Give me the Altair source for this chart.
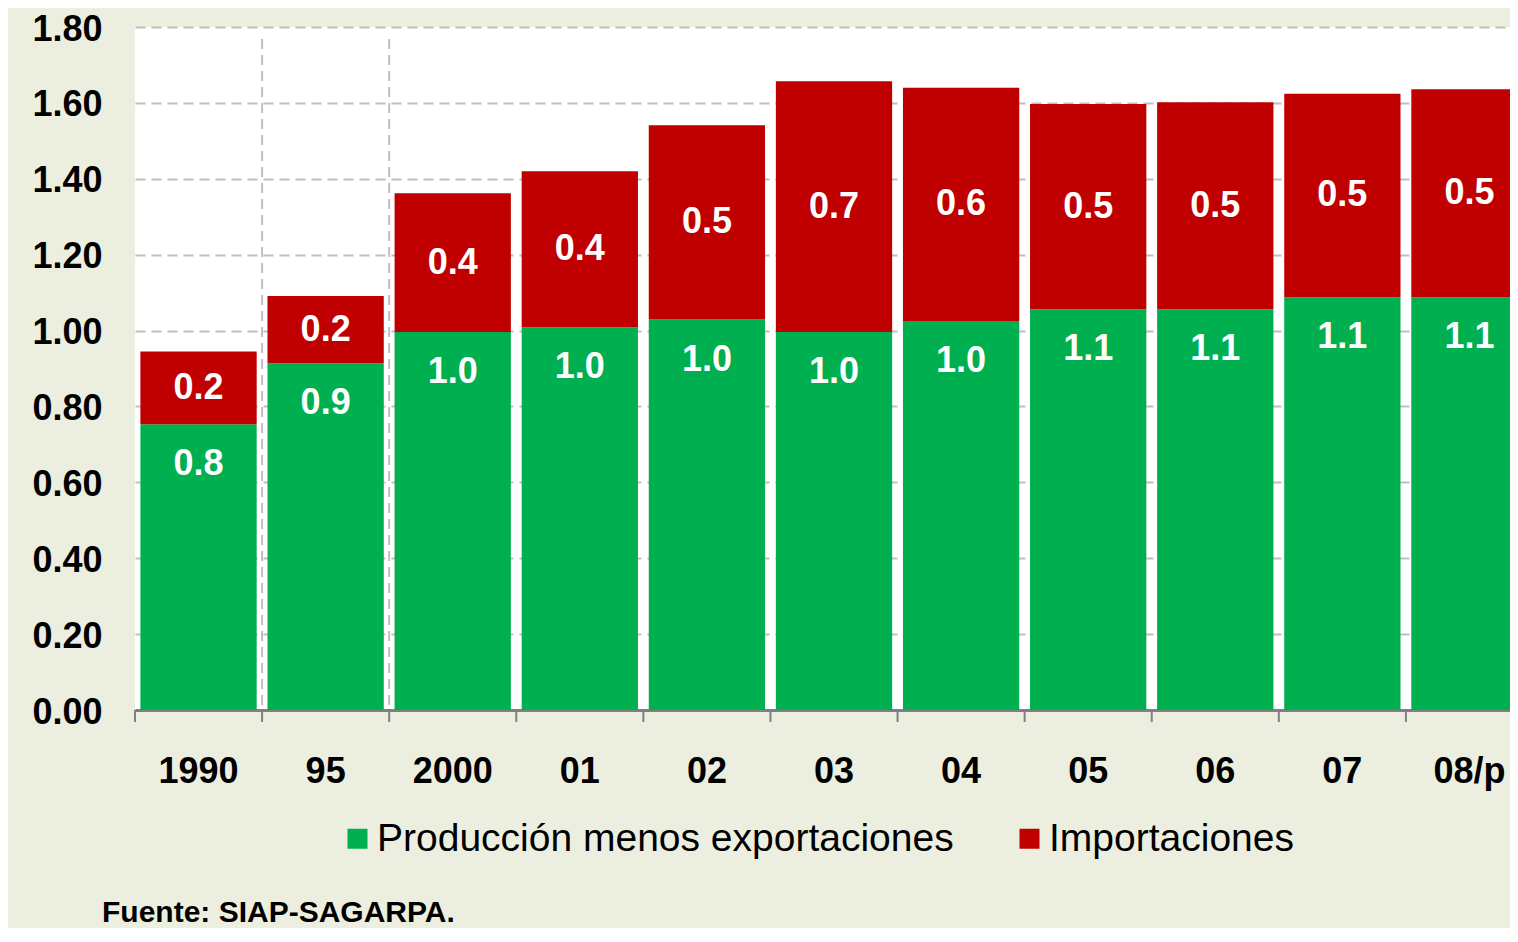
import altair as alt
import pandas as pd

F = "Liberation Sans"

years = ["1990", "95", "2000", "01", "02", "03", "04", "05", "06", "07", "08/p"]
produccion = [0.753, 0.914, 0.996, 1.009, 1.029, 0.996, 1.025, 1.056, 1.056, 1.088, 1.088]
importaciones = [0.192, 0.177, 0.366, 0.411, 0.512, 0.661, 0.615, 0.541, 0.546, 0.536, 0.548]
series_names = ["Producción menos exportaciones", "Importaciones"]
series_colors = ["#00B050", "#C00000"]
y_ticks = [0.0, 0.2, 0.4, 0.6, 0.8, 1.0, 1.2, 1.4, 1.6, 1.8]
divider_years = ["95", "2000"]
source_note = "Fuente:  SIAP-SAGARPA."

rows = []
for i, yr in enumerate(years):
    rows.append(dict(year=yr, serie=series_names[0], value=produccion[i], orden=0,
                     mid=produccion[i]))
    rows.append(dict(year=yr, serie=series_names[1], value=importaciones[i], orden=1,
                     mid=produccion[i] + importaciones[i] / 2))
df = pd.DataFrame(rows)

x_scale = alt.Scale(range=[0, 1398], paddingInner=0, paddingOuter=0)
x_axis = alt.Axis(title=None, labelAngle=0, labelAlign="center", labelFontSize=36,
                  labelFontWeight="bold", labelFont=F, labelColor="black", labelPadding=49,
                  domainColor="#808080", domainWidth=3, tickColor="transparent",
                  tickWidth=2, tickSize=12, grid=False, labelFlush=False)
y_axis = alt.Axis(title=None, values=y_ticks, format=".2f", labelFontSize=36,
                  labelFontWeight="bold", labelFont=F, labelColor="black",
                  labelPadding=33, labelOffset=2, ticks=False, domain=False, grid=True,
                  gridColor="#BFBFBF", gridDash=[10, 6], gridWidth=2)

bars = alt.Chart(df).mark_bar(width=alt.RelativeBandSize(0.915)).encode(
    x=alt.X("year:N", sort=years, scale=x_scale, axis=x_axis),
    y=alt.Y("value:Q", stack="zero", scale=alt.Scale(domain=[0, 1.8], nice=False), axis=y_axis),
    color=alt.Color("serie:N", scale=alt.Scale(domain=series_names, range=series_colors),
                    legend=alt.Legend(orient="none", legendX=203, legendY=792,
                                      direction="horizontal", title=None,
                                      symbolType="square", symbolSize=400,
                                      symbolStrokeWidth=0, labelFontSize=39,
                                      labelFont=F, labelColor="black", labelOffset=0,
                                      columnPadding=56, labelLimit=1000, padding=0)),
    order=alt.Order("orden:Q", sort="ascending"),
)

green_labels = alt.Chart(df).transform_filter(alt.datum.orden == 0).mark_text(
    dy=40, fontSize=36, fontWeight="bold", font=F, color="white", baseline="middle"
).encode(
    x=alt.X("year:N", sort=years),
    y=alt.Y("value:Q"),
    text=alt.Text("value:Q", format=".1f"),
)

red_labels = alt.Chart(df).transform_filter(alt.datum.orden == 1).mark_text(
    fontSize=36, fontWeight="bold", font=F, color="white", baseline="middle"
).encode(
    x=alt.X("year:N", sort=years),
    y=alt.Y("mid:Q"),
    text=alt.Text("value:Q", format=".1f"),
)

dividers = alt.Chart(pd.DataFrame({"year": divider_years})).mark_rule(
    strokeDash=[10, 6], color="#BFBFBF", strokeWidth=2
).encode(
    x=alt.X("year:N", sort=years, bandPosition=0),
    y=alt.value(12),
    y2=alt.value(683),
)

tick_marks = alt.Chart(pd.DataFrame({"year": years})).mark_rule(
    color="#808080", strokeWidth=2
).encode(
    x=alt.X("year:N", sort=years, bandPosition=0),
    y=alt.value(683),
    y2=alt.value(695),
)

note = alt.Chart(pd.DataFrame({"t": [source_note]})).mark_text(
    align="left", baseline="middle", fontSize=30, fontWeight="bold", font=F, color="black"
).encode(
    x=alt.value(-33),
    y=alt.value(886),
    text="t:N",
)

chart = alt.layer(dividers, bars, tick_marks, green_labels, red_labels, note).properties(
    width=1375,
    height=683,
    autosize=alt.AutoSizeParams(type="none"),
    padding={"left": 127, "top": 19, "right": 0, "bottom": 218},
    background="#ECEFDF",
).configure_view(fill="white", strokeWidth=0)

chart.save("out.html", embed_options={"renderer": "svg", "actions": False})
